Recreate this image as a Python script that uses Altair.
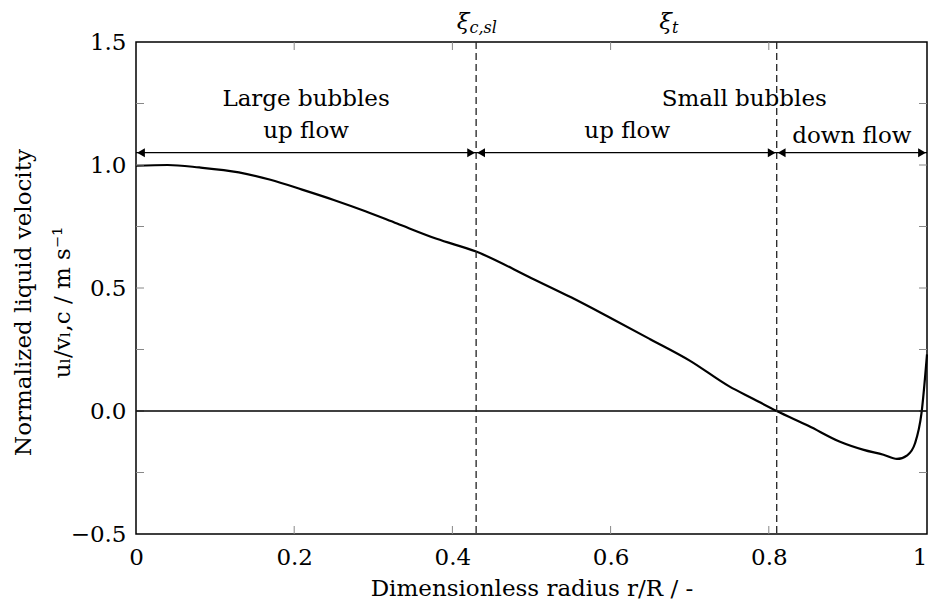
import altair as alt
import pandas as pd

FONT = "DejaVu Serif"

# ---- curve data ----
radius = [0.0, 0.04, 0.08, 0.13, 0.17, 0.21, 0.25, 0.29, 0.33, 0.38, 0.43,
          0.5, 0.55, 0.6, 0.65, 0.7, 0.75, 0.78, 0.81, 0.85, 0.89, 0.92, 0.945,
          0.962, 0.975, 0.985, 0.993, 1.0]
velocity = [0.997, 1.0, 0.99, 0.97, 0.94, 0.90, 0.858, 0.812, 0.762, 0.70, 0.648,
            0.54, 0.462, 0.378, 0.292, 0.205, 0.10, 0.05, 0.0, -0.06, -0.125, -0.158, -0.178,
            -0.195, -0.18, -0.13, -0.01, 0.23]

# ---- vertical dashed markers ----
marker_r = [0.43, 0.81]

# ---- region arrows ----
arrow_start = [0.0, 0.43, 0.81]
arrow_end = [0.43, 0.81, 1.0]
arrow_level = [1.05, 1.05, 1.05]

# ---- region labels ----
region_text = ["Large bubbles", "up flow", "Small bubbles", "up flow", "down flow"]
region_x = [0.215, 0.215, 0.769, 0.621, 0.905]
region_y = [1.268, 1.139, 1.268, 1.139, 1.119]

# ---- xi labels above the plot ----
xi_main = ["ξ", "ξ"]
xi_sub = ["c,sl", "t"]
xi_x = [0.4216, 0.6775]
xi_y = [1.581, 1.581]

# ---- ticks / labels ----
x_ticks = [0.2, 0.4, 0.6, 0.8]
y_ticks = [-0.25, 0.0, 0.25, 0.5, 0.75, 1.0, 1.25]
x_labels = [0, 0.2, 0.4, 0.6, 0.8, 1.0]
y_labels = [-0.5, 0.0, 0.5, 1.0, 1.5]
zero_level = [0.0]

W, H = 791, 492

xs = alt.Scale(domain=[0, 1], nice=False, zero=False)
ys = alt.Scale(domain=[-0.5, 1.5], nice=False, zero=False)

xaxis = alt.Axis(values=x_labels, format="~g", title="Dimensionless radius r/R / -",
                 labelFlush=False, ticks=False, domain=False, grid=False,
                 labelAlign={"condition": {"test": "datum.value == 1", "value": "right"},
                             "value": "center"},
                 labelPadding=12, titlePadding=8, labelFontSize=23, titleFontSize=23,
                 labelFont=FONT, titleFont=FONT, titleFontWeight="normal",
                 labelColor="black", titleColor="black", labelOverlap=False)
yaxis = alt.Axis(values=y_labels, format=".1f",
                 title=["Normalized liquid velocity", "uₗ/vₗ,c / m s⁻¹"],
                 ticks=False, domain=False, grid=False, labelPadding=10,
                 labelFontSize=23, titleFontSize=23, labelFont=FONT, titleFont=FONT,
                 titleFontWeight="normal", labelColor="black", titleColor="black",
                 labelOverlap=False, titleX=-113, titleY=260, titleAngle=270,
                 titleBaseline="middle", titleAlign="center", titleLineHeight=39)

X = lambda: alt.X("r:Q", scale=xs)
Y = lambda: alt.Y("u:Q", scale=ys)

curve_df = pd.DataFrame({"r": radius, "u": velocity})
curve = alt.Chart(curve_df).mark_line(color="black", strokeWidth=2.2, interpolate="monotone").encode(
    x=alt.X("r:Q", scale=xs, axis=xaxis),
    y=alt.Y("u:Q", scale=ys, axis=yaxis),
)

xt_df = pd.DataFrame({"r": x_ticks})
yt_df = pd.DataFrame({"u": y_ticks})
tick_style = dict(color="#888888", strokeWidth=1)
xt_bottom = alt.Chart(xt_df).mark_rule(**tick_style).encode(
    x=X(), y=alt.value(H), y2=alt.value(H - 8))
xt_top = alt.Chart(xt_df).mark_rule(**tick_style).encode(
    x=X(), y=alt.value(0), y2=alt.value(8))
yt_left = alt.Chart(yt_df).mark_rule(**tick_style).encode(
    y=Y(), x=alt.value(0), x2=alt.value(8))
yt_right = alt.Chart(yt_df).mark_rule(**tick_style).encode(
    y=Y(), x=alt.value(W), x2=alt.value(W - 8))

zero = alt.Chart(pd.DataFrame({"u": zero_level})).mark_rule(color="black", strokeWidth=1.3).encode(
    y=Y())

dashed = alt.Chart(pd.DataFrame({"r": marker_r})).mark_rule(
    color="#222222", strokeWidth=1.3, strokeDash=[7, 4]).encode(x=X())

arr_df = pd.DataFrame({"r": arrow_start, "r_end": arrow_end, "u": arrow_level})
arrows = alt.Chart(arr_df).mark_rule(color="black", strokeWidth=1.3).encode(
    x=X(), x2="r_end:Q", y=Y())
heads_l = alt.Chart(arr_df).mark_point(shape="triangle-left", filled=True, size=80,
                                       color="black", opacity=1, xOffset=5).encode(
    x=X(), y=Y())
heads_df = pd.DataFrame({"r": arrow_end, "u": arrow_level})
heads_r = alt.Chart(heads_df).mark_point(shape="triangle-right", filled=True, size=80,
                                         color="black", opacity=1, xOffset=-5).encode(
    x=X(), y=Y())

txt_df = pd.DataFrame({"r": region_x, "u": region_y, "t": region_text})
texts = alt.Chart(txt_df).mark_text(font=FONT, fontSize=23, color="black",
                                    align="center", baseline="middle").encode(
    x=X(), y=Y(), text="t:N")

xi_df = pd.DataFrame({"r": xi_x, "u": xi_y, "m": xi_main, "s": xi_sub})
xi_m = alt.Chart(xi_df).mark_text(font=FONT, fontSize=23, fontStyle="italic", color="black",
                                  align="right", baseline="middle").encode(
    x=X(), y=Y(), text="m:N")
xi_s = alt.Chart(xi_df).mark_text(font=FONT, fontSize=16, fontStyle="italic", color="black",
                                  align="left", baseline="middle", dy=6).encode(
    x=X(), y=Y(), text="s:N")

chart = alt.layer(
    curve, xt_bottom, xt_top, yt_left, yt_right, zero, dashed,
    arrows, heads_l, heads_r, texts, xi_m, xi_s
).properties(
    width=W, height=H,
    padding={"left": 128, "top": 34, "right": 1, "bottom": 65},
    autosize=alt.AutoSizeParams(type="none"),
).configure_view(stroke="black", strokeWidth=1.5)

chart.save("out.html", embed_options={"renderer": "svg", "actions": False})
